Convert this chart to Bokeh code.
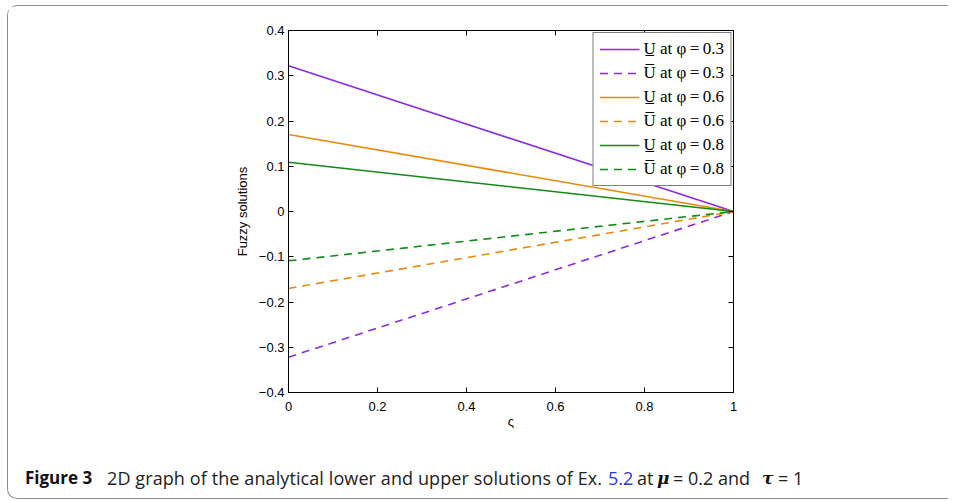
from bokeh.plotting import figure
from bokeh.models import LinearAxis, FixedTicker, Legend, LegendItem, Range1d, Div
from bokeh.layouts import column
from bokeh.embed import file_html
from bokeh.resources import INLINE

# ---- data ----
zeta = [0, 1]
lower_03 = [0.322, 0.0]
upper_03 = [-0.322, 0.0]
lower_06 = [0.170, 0.0]
upper_06 = [-0.170, 0.0]
lower_08 = [0.109, 0.0]
upper_08 = [-0.109, 0.0]

x_ticks = [0, 0.2, 0.4, 0.6, 0.8, 1]
x_tick_labels = ["0", "0.2", "0.4", "0.6", "0.8", "1"]
y_ticks = [-0.4, -0.3, -0.2, -0.1, 0, 0.1, 0.2, 0.3, 0.4]
y_tick_labels = ["\u22120.4", "\u22120.3", "\u22120.2", "\u22120.1", "0",
                 "0.1", "0.2", "0.3", "0.4"]

TS = "\u2009"
series = [
    ("U\u0332 at \u03c6" + TS + "=" + TS + "0.3", lower_03, "#8a2be2", "solid"),
    ("U\u0305 at \u03c6" + TS + "=" + TS + "0.3", upper_03, "#8a2be2", "8 6"),
    ("U\u0332 at \u03c6" + TS + "=" + TS + "0.6", lower_06, "#e8890c", "solid"),
    ("U\u0305 at \u03c6" + TS + "=" + TS + "0.6", upper_06, "#e8890c", "8 6"),
    ("U\u0332 at \u03c6" + TS + "=" + TS + "0.8", lower_08, "#138a12", "solid"),
    ("U\u0305 at \u03c6" + TS + "=" + TS + "0.8", upper_08, "#138a12", "8 6"),
]

W, H = 940, 436
p = figure(width=W, height=H, output_backend="svg", toolbar_location=None,
           x_range=Range1d(0, 1), y_range=Range1d(-0.4, 0.4),
           min_border_left=280, min_border_right=215,
           min_border_top=24, min_border_bottom=50)
p.grid.visible = False
p.outline_line_color = "black"
p.outline_line_width = 1
p.background_fill_color = "white"
p.border_fill_color = "white"

TICK_FONT = "Liberation Sans"

def style_axis(ax, ticks, labels, show_labels, standoff=4):
    ax.ticker = FixedTicker(ticks=ticks)
    if show_labels:
        ax.major_label_overrides = {t: l for t, l in zip(ticks, labels)}
        ax.major_label_text_color = "black"
    else:
        ax.major_label_overrides = {t: "" for t in ticks}
        ax.major_label_text_color = None
    ax.major_tick_in = 5
    ax.major_tick_out = 0
    ax.minor_tick_in = 0
    ax.minor_tick_out = 0
    ax.axis_line_color = "black"
    ax.major_tick_line_color = "black"
    ax.major_label_text_font = TICK_FONT
    ax.major_label_text_font_size = "13px"
    ax.major_label_standoff = standoff
    ax.axis_label_text_font = TICK_FONT
    ax.axis_label_text_font_style = "normal"
    ax.axis_label_text_font_size = "13px"
    ax.axis_label_text_color = "black"

style_axis(p.xaxis[0], x_ticks, x_tick_labels, True, standoff=9)
style_axis(p.yaxis[0], y_ticks, y_tick_labels, True, standoff=4)
p.xaxis[0].axis_label = "\u03c2"
p.xaxis[0].axis_label_standoff = 0
p.yaxis[0].axis_label = "Fuzzy solutions"
p.yaxis[0].axis_label_standoff = 6

top_ax = LinearAxis()
style_axis(top_ax, x_ticks, x_tick_labels, False)
p.add_layout(top_ax, "above")
right_ax = LinearAxis()
style_axis(right_ax, y_ticks, y_tick_labels, False)
p.add_layout(right_ax, "right")

items = []
for label, ys, color, dash in series:
    r = p.line(zeta, ys, line_color=color, line_width=1.6, line_dash=dash)
    items.append(LegendItem(label=label, renderers=[r]))

legend = Legend(items=items, location="top_right", margin=2,
                padding=6, spacing=4, glyph_width=40, glyph_height=20,
                label_height=20, label_standoff=4,
                label_text_font="Liberation Serif", label_text_font_size="17px",
                label_text_color="black",
                border_line_color="black", border_line_width=1.2,
                background_fill_color="white", background_fill_alpha=1)
p.add_layout(legend, "center")

# caption
caption_parts = [
    ("Figure 3", 17, "font-weight:bold; color:#111; font-size:17px;"),
    ("2D graph of the analytical lower and upper solutions of Ex.", 99, "letter-spacing:0.1px;"),
    ("5.2", 600, "color:#2a36e0;"),
    ("at", 629, ""),
    ("\u03bc", 649, "font-family:'DejaVu Serif'; font-weight:bold; font-style:italic; color:#111; font-size:17px;"),
    ("= 0.2 and", 665, ""),
    ("\u03c4", 754, "font-family:'DejaVu Serif'; font-weight:bold; font-style:italic; color:#111; font-size:17px;"),
    ("= 1", 770, ""),
]
spans = "".join(
    '<span style="position:absolute; left:%dpx; top:24px; white-space:nowrap; %s">%s</span>'
    % (x, st, t) for t, x, st in caption_parts)
cap_html = ('<div style="position:relative; width:940px; height:56px; '
            "font-family:'Open Sans'; font-size:18px; color:#222;\">" + spans + "</div>")
cap = Div(text=cap_html, width=940, height=56, margin=0)

layout = column(p, cap, margin=(5, 0, 0, 7), spacing=0,
                styles={"border-left": "1px solid #8c8c8c",
                        "border-top": "1px solid #8c8c8c",
                        "border-bottom": "1px solid #8c8c8c",
                        "border-top-left-radius": "10px",
                        "border-bottom-left-radius": "10px"})

open("out.html", "w").write(file_html(layout, INLINE))
